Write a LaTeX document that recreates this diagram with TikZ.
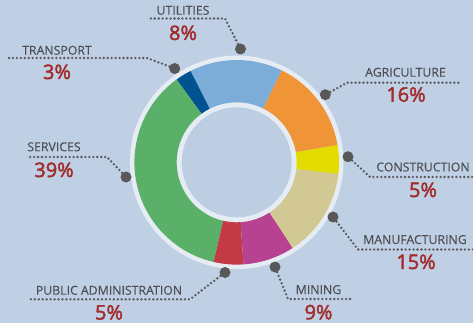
\documentclass[tikz,border=0pt]{standalone}
\usepackage{fontspec}
\usetikzlibrary{calc}
\setmainfont{Open Sans}
\newfontface\pctface{Open Sans}[FakeBold=2.2]
\definecolor{bgc}{HTML}{BFD0E5}
\definecolor{ringc}{HTML}{E6ECF4}
\definecolor{holec}{HTML}{BDCEE3}
\definecolor{dotc}{HTML}{58585A}
\definecolor{labc}{HTML}{4D4F55}
\definecolor{pctc}{HTML}{A22C2B}
\definecolor{cYellow}{HTML}{E3DC00}
\definecolor{cOrange}{HTML}{F09438}
\definecolor{cLight}{HTML}{7CACD8}
\definecolor{cDark}{HTML}{005291}
\definecolor{cGreen}{HTML}{5BB069}
\definecolor{cRed}{HTML}{C23A44}
\definecolor{cMag}{HTML}{B74292}
\definecolor{cTan}{HTML}{D2C894}
\tikzset{
  x=1pt,y=-1pt,
  pin/.style={circle,fill=dotc,inner sep=0pt,minimum size=11pt},
  leader/.style={draw=dotc,line width=2.6pt,line cap=round,dash pattern=on 0pt off 3.95pt},
  lab/.style={font=\fontsize{12.3}{13}\selectfont\addfontfeature{FakeBold=0.25},text=labc,inner sep=0pt,anchor=base,yshift=-0.7pt},
  pct/.style={font=\pctface\fontsize{20}{21}\selectfont,text=pctc,inner sep=0pt,anchor=base},
}
\newcommand{\wedgeseg}[3]{\fill[#3] (236.7,162.3) ++(#1:102.3 and -102.3) arc[start angle=#1,end angle=#2,x radius=102.3,y radius=-102.3] -- ($(236.7,162.3)+(#2:60 and -60)$) arc[start angle=#2,end angle=#1,x radius=60,y radius=-60] -- cycle;}
\begin{document}
\begin{tikzpicture}
\useasboundingbox (0,0) rectangle (473,323);
\fill[bgc] (0,0) rectangle (473,323);
\coordinate (c) at (236.7,162.3);
\fill[ringc] (c) circle[radius=106.8];
\fill[holec] (c) circle[radius=55];
\wedgeseg{-6.6}{9.8}{cYellow}
\wedgeseg{9.8}{64}{cOrange}
\wedgeseg{64}{116.8}{cLight}
\wedgeseg{116.8}{126}{cDark}
\wedgeseg{126}{257}{cGreen}
\wedgeseg{257}{273.8}{cRed}
\wedgeseg{273.8}{303.2}{cMag}
\wedgeseg{303.2}{353.4}{cTan}
% pins
\node[pin] (pU) at (240.5,49) {};
\node[pin] (pT) at (174.7,68.5) {};
\node[pin] (pS) at (126,177) {};
\node[pin] (pA) at (325.3,94.7) {};
\node[pin] (pC) at (348,156.7) {};
\node[pin] (pM) at (333,217) {};
\node[pin] (pI) at (275,267) {};
\node[pin] (pP) at (225,272.5) {};
% leader bends and ends
\coordinate (bU) at (225,18.5); \coordinate (eU) at (149,18.5);
\coordinate (bT) at (147,58);   \coordinate (eT) at (6,58);
\coordinate (bS) at (107,157);  \coordinate (eS) at (28,157);
\coordinate (bA) at (347,82.7); \coordinate (eA) at (460,82.7);
\coordinate (bC) at (370,177);  \coordinate (eC) at (473,177);
\coordinate (bM) at (358,249.5);\coordinate (eM) at (473,249.5);
\coordinate (bI) at (288,299);  \coordinate (eI) at (352,299);
\coordinate (bP) at (190,299.3);\coordinate (eP) at (30,299.3);
\foreach \k in {U,T,S,A,C,M,I,P}{
  \draw[leader] (p\k) -- (b\k) -- (e\k);
}
% labels
\node[lab] (lU) at (183,14) {UTILITIES};
\node[pct] (nU) at (183,40) {8\%};
\node[lab] (lT) at (57,54) {TRANSPORT};
\node[pct] (nT) at (57,79) {3\%};
\node[lab] (lS) at (54,150.5) {SERVICES};
\node[pct] (nS) at (54,177) {39\%};
\node[lab] (lA) at (405.5,76) {AGRICULTURE};
\node[pct] (nA) at (406,101.7) {16\%};
\node[lab] (lC) at (423,170.7) {CONSTRUCTION};
\node[pct] (nC) at (423,197) {5\%};
\node[lab] (lM) at (415,243.3) {MANUFACTURING};
\node[pct] (nM) at (416,269) {15\%};
\node[lab] (lI) at (318.5,293.3) {MINING};
\node[pct] (nI) at (318.5,319.3) {9\%};
\node[lab] (lP) at (109,294) {PUBLIC ADMINISTRATION};
\node[pct] (nP) at (109,319.5) {5\%};
\end{tikzpicture}
\end{document}
